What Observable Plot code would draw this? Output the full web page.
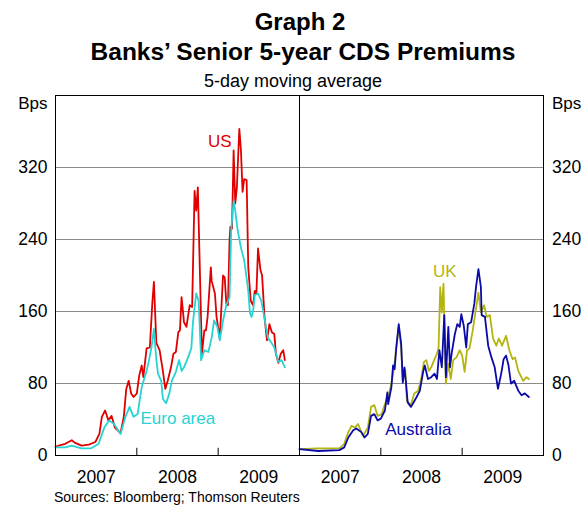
<!DOCTYPE html>
<html><head><meta charset="utf-8">
<script src="https://cdn.jsdelivr.net/npm/d3@7"></script>
<script src="https://cdn.jsdelivr.net/npm/@observablehq/plot@0.6"></script>
<style>
body{margin:0;background:#fff;}
#wrap{position:relative;width:581px;height:506px;overflow:hidden;font-family:"Liberation Sans",Arial,sans-serif;color:#000;background:#fff;}
.t{position:absolute;white-space:nowrap;line-height:1;transform:translateX(-50%);}
#chart{position:absolute;left:0;top:90px;}
</style></head><body>
<div id="wrap">
<div class="t" style="left:300px;top:9.5px;font-size:24px;font-weight:bold">Graph 2</div>
<div class="t" style="left:303px;top:40px;font-size:24.5px;font-weight:bold">Banks’ Senior 5-year CDS Premiums</div>
<div class="t" style="left:293px;top:71.5px;font-size:18px">5-day moving average</div>
<div id="chart"></div>
<div class="t" style="left:54px;top:489.5px;font-size:14px;transform:none">Sources: Bloomberg; Thomson Reuters</div>
</div>
<script>
// Panels and series
const panels = ["left", "right"];
const seriesNames = ["US", "Euro area", "UK", "Australia"];
const seriesPanel = ["left", "left", "right", "right"];
const seriesColors = ["#e00000", "#27d3d3", "#b4b40f", "#0a0aa8"];

// Axis ticks
const yTicks = [0, 80, 160, 240, 320];
const yearTickPos = [2007.5, 2008.5, 2009.5];
const yearTickLabels = ["2007", "2008", "2009"];
const yearBoundaries = [2008, 2009];

// Series: [years since start of 2007, bps]
const usData = [[0.00,10],[0.12,13],[0.20,17],[0.24,14],[0.32,11],[0.41,12],[0.49,15],[0.54,24],[0.57,43],[0.61,50],[0.65,39],[0.69,44],[0.73,31],[0.80,25],[0.84,43],[0.87,74],[0.90,83],[0.93,69],[0.96,65],[1.00,69],[1.03,89],[1.06,100],[1.08,87],[1.12,119],[1.16,120],[1.19,169],[1.21,193],[1.24,125],[1.28,117],[1.32,94],[1.35,74],[1.38,83],[1.42,98],[1.45,113],[1.48,115],[1.51,137],[1.53,139],[1.55,176],[1.58,148],[1.61,143],[1.65,167],[1.68,165],[1.71,294],[1.73,272],[1.75,298],[1.77,224],[1.80,113],[1.83,139],[1.85,139],[1.87,154],[1.91,209],[1.92,194],[1.96,180],[1.98,154],[2.02,130],[2.06,200],[2.08,198],[2.10,169],[2.12,167],[2.14,239],[2.15,254],[2.17,252],[2.19,339],[2.21,280],[2.23,298],[2.26,363],[2.28,339],[2.30,293],[2.32,307],[2.35,306],[2.37,209],[2.40,172],[2.43,167],[2.45,183],[2.47,180],[2.49,230],[2.52,206],[2.54,200],[2.57,154],[2.60,128],[2.63,146],[2.66,137],[2.69,135],[2.71,113],[2.74,103],[2.77,113],[2.80,117],[2.82,106]];
const euroData = [[0.00,9],[0.12,9],[0.20,11],[0.32,8],[0.44,8],[0.53,13],[0.60,31],[0.66,39],[0.72,35],[0.80,24],[0.86,43],[0.91,54],[0.96,43],[1.01,46],[1.06,76],[1.12,94],[1.15,106],[1.18,120],[1.21,141],[1.24,106],[1.26,91],[1.30,83],[1.32,63],[1.36,58],[1.40,69],[1.43,83],[1.48,93],[1.52,106],[1.55,94],[1.58,98],[1.63,109],[1.67,119],[1.69,148],[1.73,180],[1.76,172],[1.79,106],[1.83,117],[1.88,115],[1.92,131],[1.95,150],[1.99,143],[2.02,128],[2.06,150],[2.10,167],[2.14,176],[2.16,250],[2.19,283],[2.21,272],[2.24,250],[2.28,231],[2.32,217],[2.37,183],[2.39,159],[2.41,154],[2.43,161],[2.45,178],[2.49,180],[2.53,172],[2.57,152],[2.61,131],[2.65,126],[2.69,120],[2.74,104],[2.78,106],[2.82,98]];
const ukData = [[0.00,7],[0.23,8],[0.49,8],[0.55,13],[0.60,26],[0.64,33],[0.68,31],[0.72,35],[0.78,22],[0.84,31],[0.88,54],[0.92,56],[0.96,44],[1.01,46],[1.05,57],[1.09,65],[1.13,80],[1.16,96],[1.19,120],[1.22,143],[1.25,120],[1.27,83],[1.30,96],[1.32,61],[1.37,56],[1.41,69],[1.46,72],[1.50,87],[1.53,104],[1.56,106],[1.59,94],[1.62,98],[1.66,107],[1.69,113],[1.71,120],[1.73,187],[1.75,159],[1.77,191],[1.78,154],[1.80,80],[1.83,102],[1.86,85],[1.89,106],[1.93,109],[1.97,117],[2.00,111],[2.03,93],[2.06,117],[2.09,119],[2.13,139],[2.16,157],[2.20,181],[2.23,159],[2.27,167],[2.30,154],[2.34,156],[2.38,130],[2.42,122],[2.45,130],[2.49,122],[2.54,133],[2.58,117],[2.62,107],[2.65,109],[2.69,94],[2.75,83],[2.79,87],[2.82,85]];
const ausData = [[0.00,7],[0.23,5],[0.49,6],[0.55,9],[0.60,20],[0.66,28],[0.70,30],[0.76,26],[0.80,20],[0.84,24],[0.88,44],[0.92,46],[0.96,39],[1.00,41],[1.05,50],[1.08,70],[1.09,57],[1.13,76],[1.15,100],[1.17,96],[1.19,120],[1.22,146],[1.25,124],[1.27,81],[1.29,98],[1.31,80],[1.33,59],[1.37,54],[1.39,57],[1.44,65],[1.48,72],[1.52,93],[1.54,100],[1.58,85],[1.62,87],[1.66,91],[1.69,85],[1.72,117],[1.75,98],[1.78,156],[1.80,87],[1.83,143],[1.85,98],[1.87,113],[1.91,135],[1.94,146],[1.97,143],[1.99,157],[2.02,144],[2.05,120],[2.07,146],[2.11,148],[2.15,169],[2.17,187],[2.20,207],[2.23,187],[2.24,156],[2.28,154],[2.32,122],[2.36,109],[2.40,98],[2.44,74],[2.48,91],[2.51,107],[2.54,111],[2.57,100],[2.60,80],[2.64,83],[2.69,72],[2.73,67],[2.77,69],[2.82,65]];

// Series label anchors (years since 2007, bps)
const labelT = [1.875, 1.045, 1.64, 1.054];
const labelV = [349, 41, 204, 29];

const startYear = 2007;
const seriesData = [usData, euroData, ukData, ausData];
const rows = seriesData.flatMap((arr, i) => arr.map(([t, v]) => ({
  t: startYear + t, v, series: seriesNames[i], panel: seriesPanel[i]
})));
const labelRows = seriesNames.map((s, i) => ({
  t: startYear + labelT[i], v: labelV[i], series: s, label: s, panel: seriesPanel[i]
}));

const chart = Plot.plot({
  width: 581, height: 400,
  marginTop: 5, marginBottom: 35, marginLeft: 54, marginRight: 38,
  style: {fontFamily: '"Liberation Sans", Arial, sans-serif', fontSize: "17.5px", color: "#000", background: "transparent", overflow: "visible"},
  fx: {domain: panels, padding: 0, axis: null},
  x: {domain: [2007, 2010], axis: null},
  y: {domain: [0, 400]},
  color: {domain: seriesNames, range: seriesColors},
  marks: [
    Plot.ruleY(yTicks.filter(d => d > 0), {stroke: "#8a8a8a", strokeWidth: 1}),
    Plot.lineY(rows, {x: "t", y: "v", z: "series", stroke: "series", fx: "panel", strokeWidth: 1.8}),
    Plot.frame({stroke: "#000", strokeWidth: 1}),
    Plot.ruleX(yearBoundaries, {y1: 0, y2: 8, stroke: "#000"}),
    Plot.text(yearTickPos, {x: d => d, text: (d, i) => yearTickLabels[i], frameAnchor: "bottom", lineAnchor: "top", dy: 15, fontSize: 17.5}),
    Plot.axisY({anchor: "left", ticks: yTicks, tickSize: 0, tickPadding: 8, label: null, fontSize: 17.5}),
    Plot.axisY({anchor: "right", ticks: yTicks, tickSize: 0, tickPadding: 8.5, label: null, fontSize: 17.5}),
    Plot.text([{panel: "left"}], {fx: "panel", text: () => "Bps", frameAnchor: "top-left", textAnchor: "end", lineAnchor: "top", dx: -8, dy: 1.5, fontSize: 17}),
    Plot.text([{panel: "right"}], {fx: "panel", text: () => "Bps", frameAnchor: "top-right", textAnchor: "start", lineAnchor: "top", dx: 8.5, dy: 1.5, fontSize: 17}),
    Plot.text(labelRows, {x: "t", y: "v", text: "label", fill: "series", fx: "panel", textAnchor: "start", lineAnchor: "middle", fontSize: 17})
  ]
});
document.getElementById("chart").appendChild(chart);
</script>
</body></html>
